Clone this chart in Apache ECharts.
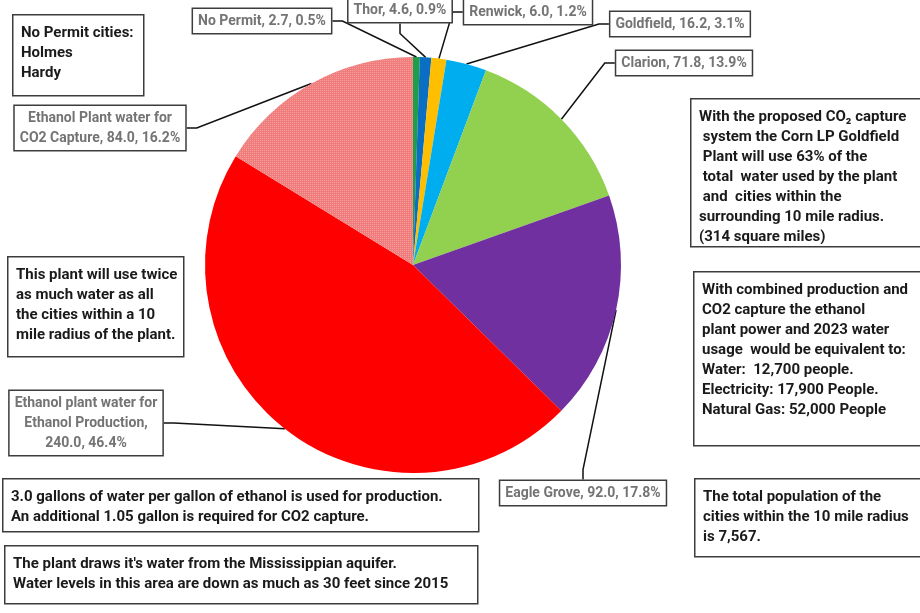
<!DOCTYPE html>
<html>
<head>
<meta charset="utf-8">
<script src="https://cdn.jsdelivr.net/npm/echarts@6/dist/echarts.min.js"></script>
<style>
  html, body { margin: 0; padding: 0; background: #fff; }
  #main { width: 920px; height: 613px; }
</style>
</head>
<body>
<div id="main"></div>
<script>
// slices, clockwise from 12 o'clock
var names = ['No Permit', 'Thor', 'Renwick', 'Goldfield', 'Clarion', 'Eagle Grove',
  'Ethanol plant water for\nEthanol Production,\n', 'Ethanol Plant water for\nCO2 Capture, '];
var values = [2.7, 4.6, 6.0, 16.2, 71.8, 92.0, 240.0, 84.0];
var colors = ['#1e9e48', '#0a6fc2', '#ffbf00', '#00aef0', '#92d050', '#7030a0', '#ff0000', '#f07c7c'];

// where each callout box sits (centre of box)
var labelPos = [[262, 21], [400, 10], [528, 12], [680, 24], [684, 63], [583, 493], [86, 423], [100, 128]];

var notes = [
  { x: 12, y: 14, w: 131, h: 81, text: 'No Permit cities:\nHolmes\nHardy' },
  { x: 690, y: 98, w: 240, h: 148, text: 'With the proposed CO\u2082 capture\n system the Corn LP Goldfield\n Plant will use 63% of the\n total  water used by the plant\n and  cities within the\nsurrounding 10 mile radius.\n(314 square miles)' },
  { x: 693, y: 271, w: 240, h: 174, text: 'With combined production and\nCO2 capture the ethanol\nplant power and 2023 water\nusage  would be equivalent to:\nWater:  12,700 people.\nElectricity: 17,900 People.\nNatural Gas: 52,000 People' },
  { x: 7, y: 256, w: 176, h: 100, text: 'This plant will use twice\nas much water as all\nthe cities within a 10\nmile radius of the plant.' },
  { x: 2, y: 478, w: 476, h: 53, text: '3.0 gallons of water per gallon of ethanol is used for production.\nAn additional 1.05 gallon is required for CO2 capture.' },
  { x: 4, y: 545, w: 473, h: 58, text: "The plant draws it's water from the Mississippian aquifer.\nWater levels in this area are down as much as 30 feet since 2015" },
  { x: 694, y: 478, w: 240, h: 78, text: 'The total population of the\ncities within the 10 mile radius\nis 7,567.' }
];

var myChart = echarts.init(document.getElementById('main'));

var graphics = [];
notes.forEach(function (n) {
  graphics.push({
    type: 'rect',
    left: n.x, top: n.y,
    shape: { width: n.w, height: n.h },
    style: { fill: '#fff', stroke: '#3c3c3c', lineWidth: 1.5 }
  });
  graphics.push({
    type: 'text',
    left: n.x + 9, top: n.y + 9,
    style: {
      text: n.text,
      font: 'bold 15px Roboto',
      lineHeight: 20,
      fill: '#1a1a1a'
    }
  });
});

var option = {
  backgroundColor: '#fff',
  animation: false,
  graphic: graphics,
  series: [{
    type: 'pie',
    center: [413, 265],
    radius: 208,
    startAngle: 90,
    clockwise: true,
    avoidLabelOverlap: false,
    data: values.map(function (v, i) {
      var item = {
        name: names[i],
        value: v,
        itemStyle: { color: colors[i] }
      };
      if (i === 7) {
        item.itemStyle.decal = {
          symbol: 'rect',
          symbolSize: 1,
          dashArrayX: [1, 1],
          dashArrayY: [1, 1],
          color: 'rgba(255,255,255,0.25)'
        };
      }
      return item;
    }),
    label: {
      show: true,
      formatter: function (p) {
        var sep = (p.dataIndex >= 6) ? '' : ', ';
        return p.name + sep + p.value.toFixed(1) + ', ' + p.percent.toFixed(1) + '%';
      },
      color: '#747474',
      fontFamily: 'Roboto',
      fontWeight: 'bold',
      fontSize: 14,
      lineHeight: 20,
      align: 'center',
      backgroundColor: '#fff',
      borderColor: '#3c3c3c',
      borderWidth: 1.5,
      padding: [2, 5]
    },
    labelLine: {
      show: true,
      length: 10,
      length2: 10,
      lineStyle: { color: '#111', width: 1.5 }
    },
    labelLayout: function (p) {
      var pos = labelPos[p.dataIndex];
      return { x: pos[0], y: pos[1], align: 'center', verticalAlign: 'middle' };
    },
    emphasis: { disabled: true }
  }]
};

myChart.setOption(option);
</script>
</body>
</html>
